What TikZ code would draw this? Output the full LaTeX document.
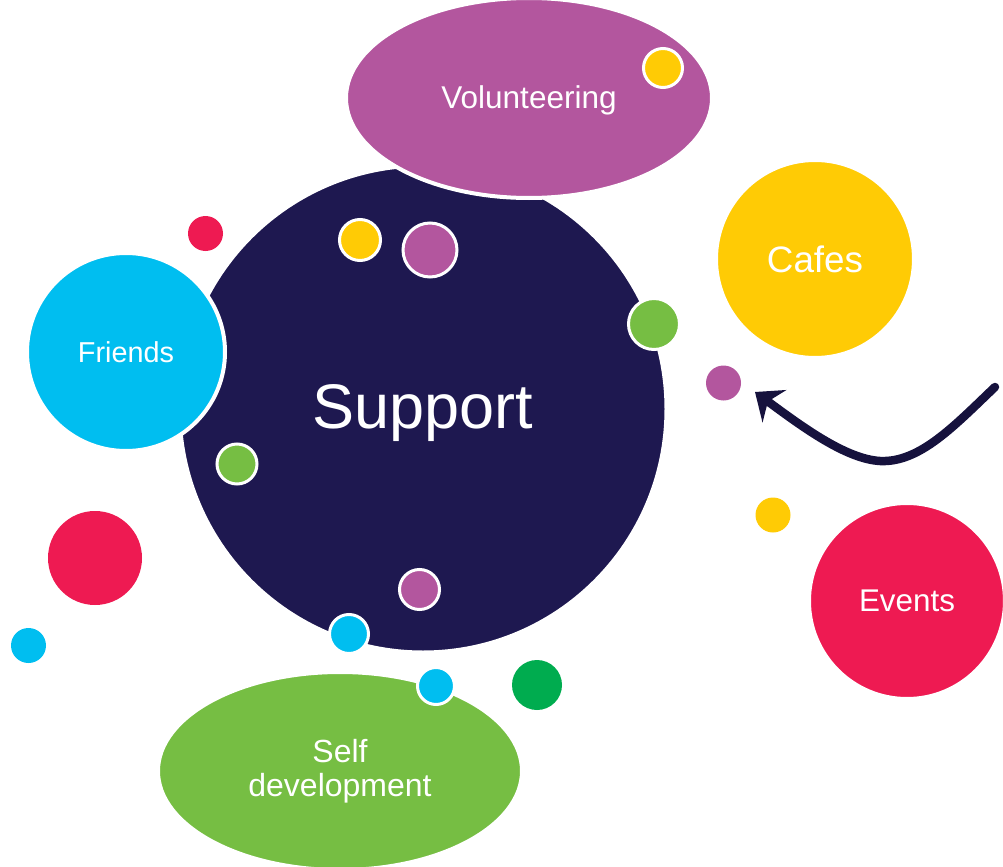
\documentclass[tikz,border=0pt]{standalone}
\usepackage{fontspec}
\setmainfont{Liberation Sans}
\usetikzlibrary{
    arrows.meta,
    shapes.geometric
}
\definecolor{navy}{HTML}{1E1850}
\definecolor{plum}{HTML}{B3569E}
\definecolor{sun}{HTML}{FFCB05}
\definecolor{sky}{HTML}{00BEF0}
\definecolor{rose}{HTML}{EE1A52}
\definecolor{leaf}{HTML}{76BE43}
\definecolor{moss}{HTML}{00AC4F}
\definecolor{ink}{HTML}{16123D}

\begin{document}
\begin{tikzpicture}[x=0.5pt, y=-0.5pt,
    bubble/.style={circle, fill=#1, draw=white, line width=2pt, inner sep=0pt, text=white},
    blob/.style={ellipse, fill=#1, draw=white, line width=2pt, inner sep=0pt, text=white, align=center},
    spot/.style={circle, fill=#1, inner sep=0pt},
    ringspot/.style={circle, fill=#1, draw=white, line width=1.5pt, inner sep=0pt}]
                                \useasboundingbox (0, 0) rectangle (1003, 867);
                                \node[bubble=navy, minimum size=243.5pt, font=\fontsize{31.5}{36}\selectfont]
                                    (support) at (423, 409) {\raisebox{-2pt}[\height][\depth]{Support}};
                                \node[blob=plum, minimum width=183pt, minimum height=100pt, font=\fontsize{15.75}{18}\selectfont]
                                    (volunteering) at (529, 98) {\raisebox{-1pt}[\height][\depth]{Volunteering}};
                                \node[bubble=sky, minimum size=99pt, font=\fontsize{14.4}{17}\selectfont]
                                    (friends) at (126, 352) {Friends};
                                \node[bubble=sun, minimum size=99pt, font=\fontsize{18.4}{21}\selectfont]
                                    (cafes) at (815, 259) {Cafes};
                                \node[bubble=rose, minimum size=98pt, font=\fontsize{15.7}{18}\selectfont]
                                    (events) at (907, 601) {Events};
                                \node[blob=leaf, minimum width=182pt, minimum height=99pt, font=\fontsize{16}{17}\selectfont]
                                    (selfdev) at (340, 771) {Self\\development};
                                \node[ringspot=sun, minimum size=19.5pt] (volsun) at (663, 68) {};
                                \node[ringspot=sun, minimum size=20.5pt] (topsun) at (360, 240) {};
                                \node[ringspot=plum, minimum size=27pt] (topplum) at (430, 250) {};
                                \node[ringspot=leaf, minimum size=25.5pt] (rightleaf) at (654, 324) {};
                                \node[ringspot=leaf, minimum size=20pt] (leftleaf) at (237, 464) {};
                                \node[ringspot=plum, minimum size=20pt] (lowplum) at (419.5, 589.5) {};
                                \node[ringspot=sky, minimum size=19.5pt] (lowsky) at (349, 634) {};
                                \node[ringspot=sky, minimum size=18.5pt] (devsky) at (436, 686) {};
                                \node[spot=rose, minimum size=17.5pt] (toprose) at (205.5, 233.5) {};
                                \node[spot=plum, minimum size=17.5pt] (arrowplum) at (723.5, 383) {};
                                \node[spot=rose, minimum size=47pt] (leftrose) at (95, 558) {};
                                \node[spot=sky, minimum size=17.5pt] (cornersky) at (28.5, 645.5) {};
                                \node[spot=moss, minimum size=25pt] (lowmoss) at (537, 685) {};
                                \node[spot=sun, minimum size=17.5pt] (eventsun) at (773, 515) {};
                                \coordinate (arrowstart) at (995, 387);
                                \coordinate (arrowbend) at (880, 461);
                                \coordinate (arrowtip) at (755, 392);
                                \draw[ink, line width=4.25pt, line cap=round, -{Stealth[length=12pt, width=20pt, inset=4pt]}]
                                (arrowstart) .. controls (955, 425) and (920, 463) .. (arrowbend)
                                .. controls (845, 459) and (800, 425) .. (arrowtip);
                            \end{tikzpicture}
\end{document}
